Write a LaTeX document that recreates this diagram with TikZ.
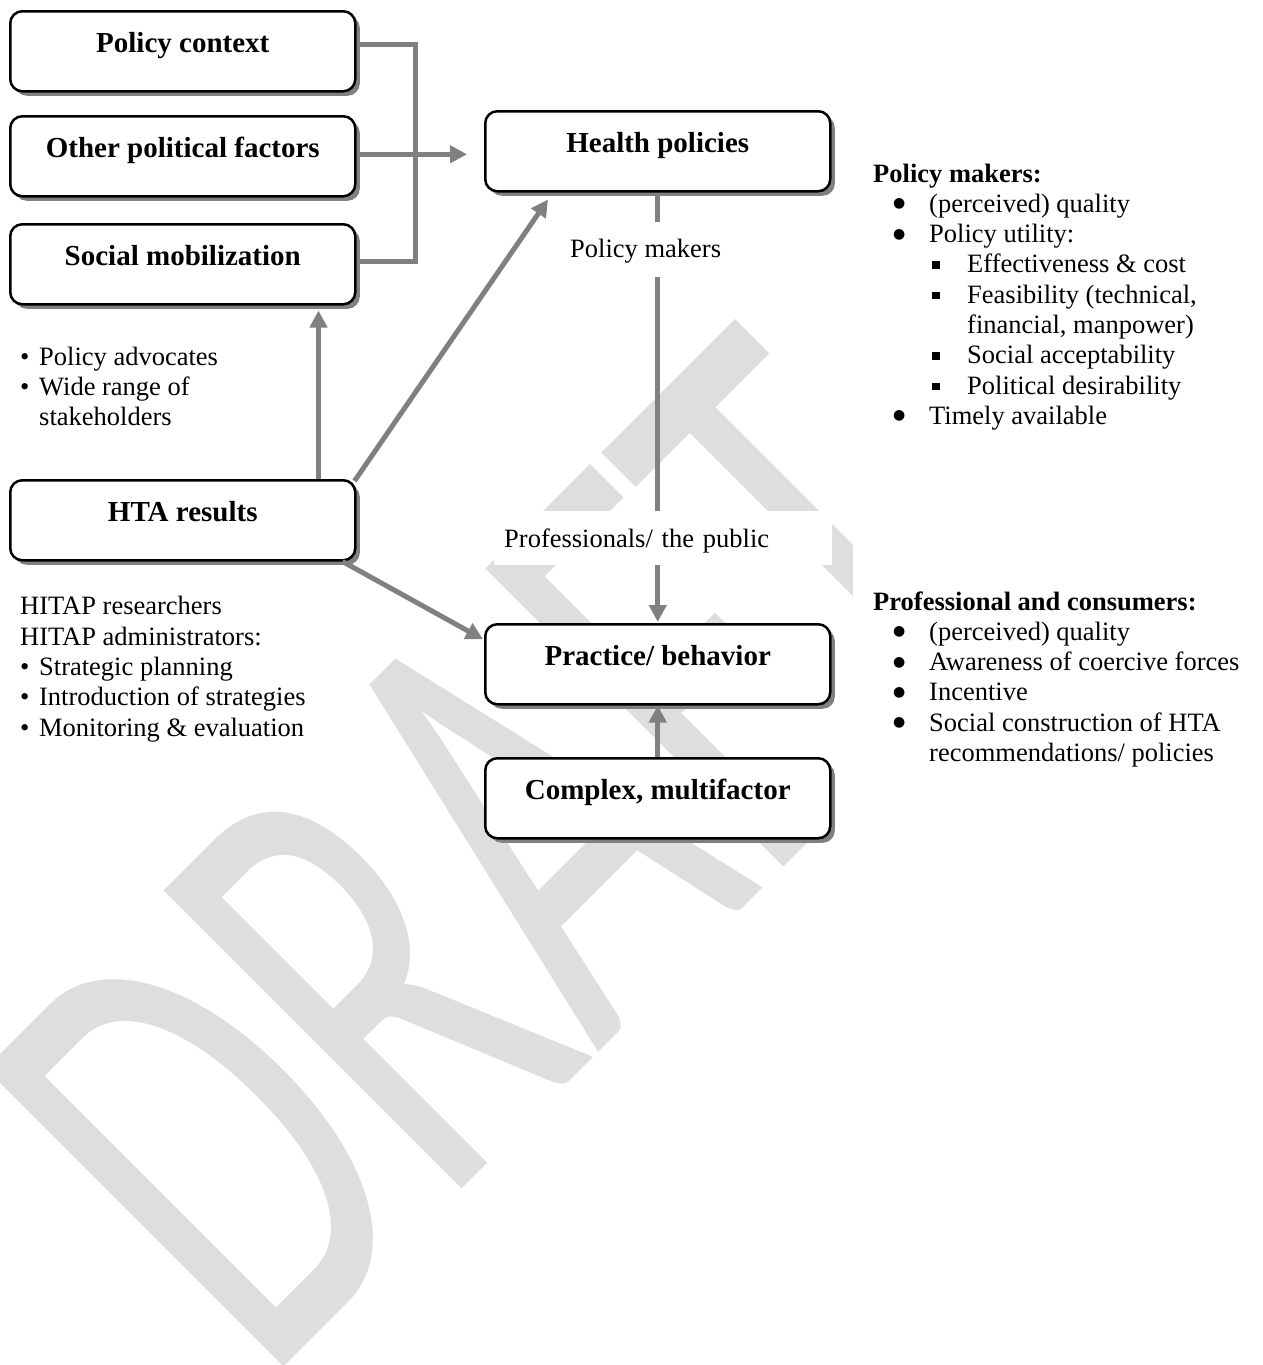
\documentclass[tikz,border=0pt]{standalone}
\usepackage{fontspec}
\usepackage{graphicx}
\setmainfont{Liberation Serif}
\newfontfamily\wmfont{Carlito}
\newfontfamily\symfont{DejaVu Sans}
\usetikzlibrary{arrows.meta,shadows}
\definecolor{wmgray}{RGB}{222,222,222}
\definecolor{conngray}{RGB}{128,128,128}
\newcommand\bodyfont{\fontsize{26.5}{30.3}\selectfont}
\newcommand\boxfont{\fontsize{29}{34}\selectfont\bfseries}
\newcommand\bigbul{\makebox[36pt][l]{\raisebox{4.5pt}{\symfont\fontsize{14}{14}\selectfont ●}}}
\newcommand\sqbul{\makebox[35pt][l]{\rule[4pt]{7.5pt}{7.5pt}}}
\newcommand\smbul{\makebox[19pt][l]{•}}
\tikzset{
  box/.style={draw=black, line width=2.5pt, rounded corners=12pt, fill=white,
    minimum width=345pt, minimum height=80pt, inner sep=0pt,
    text height=41pt, text depth=39pt, anchor=north west, font=\boxfont,
    drop shadow={shadow xshift=4.5pt, shadow yshift=-4.5pt, fill=conngray, opacity=1}},
  conn/.style={draw=conngray, line width=5pt},
  arr/.style={conn, -{Triangle[length=17pt,width=17pt]}},
  lbl/.style={fill=white, inner xsep=10pt, inner ysep=0pt, anchor=base west, font=\bodyfont},
  textblock/.style={anchor=base west, align=left, inner sep=0pt, font=\bodyfont},
  sidebox/.style={textblock, fill=white, inner xsep=20pt, inner ysep=55pt},
  wmark/.style={anchor=base west, inner sep=0pt, text=wmgray, rotate=45, font=\wmfont\fontsize{657}{657}\selectfont}
}
\begin{document}
\begin{tikzpicture}[x=1pt,y=1pt]
\path[use as bounding box, fill=white] (0,0) rectangle (1262,-1365);
% watermark
\begin{scope}
  \clip (0,0) rectangle (1262,-1365);
  \node[wmark] (wm) at (264,-1387) {\scalebox{0.62}[1]{DRAFT}};
\end{scope}
% boxes
\node[box] (pc)  at (9,-10)    {Policy context};
\node[box] (opf) at (9,-115)   {Other political factors};
\node[box] (sm)  at (9,-223)   {Social mobilization};
\node[box] (hp)  at (484,-110) {Health policies};
\node[box] (hta) at (9,-479)   {HTA results};
\node[box] (pb)  at (484,-623) {Practice/ behavior};
\node[box] (cm)  at (484,-757) {Complex, multifactor};
% connectors
\draw[conn] ([yshift=7pt]pc.east) -- ++(59,0) |- ([yshift=3pt]sm.east);
\draw[arr, shorten >=17pt] ([yshift=2pt]opf.east) -- ([yshift=2pt]opf.east -| hp.west);
\draw[arr, shorten >=5pt] ([xshift=-38pt]hta.north east) -- ([xshift=-38pt]sm.south east);
\draw[arr] ([xshift=-2pt,yshift=-2pt]hta.north east) -- ([xshift=64pt,yshift=-7pt]hp.south west);
\draw[arr] ([xshift=-14pt]hta.south east) -- ([xshift=-1pt,yshift=25pt]pb.west);
\draw[arr, shorten >=1pt] (hp.south) -- (pb.north);
\draw[arr] (cm.north) -- (pb.south);
% labels on the vertical connector
\node[lbl, text height=35pt, text depth=20pt] (lpm) at (560,-257) {Policy makers};
\node[lbl, text height=36pt, text depth=18pt, text width=318pt, align=left] (lpp) at (494,-547) {Professionals/ the public};
% left text blocks (anchored at the baseline of the last line)
\node[textblock] (adv) at (20,-425.6) {\smbul Policy advocates\\ \smbul Wide range of\\ \hspace*{19pt}stakeholders};
\node[textblock] (hit) at (20,-736) {HITAP researchers\\ HITAP administrators:\\ \smbul Strategic planning\\ \smbul Introduction of strategies\\ \smbul Monitoring \& evaluation};
% right text blocks (anchored at the baseline of the last line)
\node[sidebox] (pmk) at (853,-424.4) {\textbf{Policy makers:}\\
\hspace*{20pt}\bigbul(perceived) quality\\
\hspace*{20pt}\bigbul Policy utility:\\
\hspace*{59pt}\sqbul Effectiveness \& cost\\
\hspace*{59pt}\sqbul Feasibility (technical,\\
\hspace*{94pt}financial, manpower)\\
\hspace*{59pt}\sqbul Social acceptability\\
\hspace*{59pt}\sqbul Political desirability\\
\hspace*{20pt}\bigbul Timely available};
\node[sidebox] (pcn) at (853,-761.5) {\textbf{Professional and consumers:}\\
\hspace*{20pt}\bigbul(perceived) quality\\
\hspace*{20pt}\bigbul Awareness of coercive forces\\
\hspace*{20pt}\bigbul Incentive\\
\hspace*{20pt}\bigbul Social construction of HTA\\
\hspace*{56pt}recommendations/ policies};
\end{tikzpicture}
\end{document}
